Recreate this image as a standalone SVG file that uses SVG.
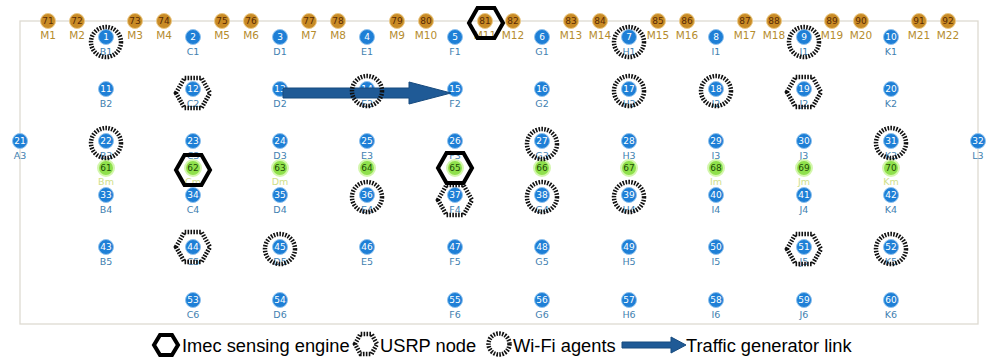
<svg xmlns="http://www.w3.org/2000/svg" xmlns:xlink="http://www.w3.org/1999/xlink" width="988" height="362" viewBox="0 0 988 362">
<style>
.frame{fill:none;stroke:#dddad2;stroke-width:1.3}
.b{fill:#1e7fd6;stroke:#8fc2ee;stroke-width:1}
.m{fill:#c98b25;stroke:#e9c886;stroke-width:1}
.g{fill:#8fe04c;stroke:#d4f6ae;stroke-width:2}
.bn,.mn,.gn{font-family:"DejaVu Sans",sans-serif;font-size:9px;text-anchor:middle}
.bn{fill:#ffffff}
.mn{fill:#5a2b05}
.gn{fill:#1d4d05}
.bl{font-family:"DejaVu Sans",sans-serif;font-size:9.5px;text-anchor:middle;fill:#3f7fb0}
.ml{font-family:"DejaVu Sans",sans-serif;font-size:10.5px;text-anchor:middle;fill:#b58c2e}
.gl{font-family:"DejaVu Sans",sans-serif;font-size:9.5px;text-anchor:middle;fill:#cfe08a}
.wifi{fill:none;stroke:#111;stroke-width:4.5;stroke-dasharray:1.6 1.3}
.usrp{fill:none;stroke:#111;stroke-width:4.5;stroke-dasharray:1.6 1.3}
.imec{fill:none;stroke:#000;stroke-width:4}
.arrow{fill:#1f5a96;stroke:#174a7e;stroke-width:1}
.lt{font-family:"Liberation Sans",Arial,sans-serif;font-size:18.3px;fill:#000}
</style>
<defs>
<polygon id="hex" points="-17,0 -8.5,-15 8.5,-15 17,0 8.5,15 -8.5,15"/>
</defs>
<rect class="frame" x="20" y="21" width="958" height="303"/>
<g id="m-nodes">
<g id="n71"><circle class="m" cx="48" cy="21" r="7.5"/><text class="mn" x="48" y="24.3">71</text><text class="ml" x="48" y="39">M1</text></g>
<g id="n72"><circle class="m" cx="77" cy="21" r="7.5"/><text class="mn" x="77" y="24.3">72</text><text class="ml" x="77" y="39">M2</text></g>
<g id="n73"><circle class="m" cx="135" cy="21" r="7.5"/><text class="mn" x="135" y="24.3">73</text><text class="ml" x="135" y="39">M3</text></g>
<g id="n74"><circle class="m" cx="164" cy="21" r="7.5"/><text class="mn" x="164" y="24.3">74</text><text class="ml" x="164" y="39">M4</text></g>
<g id="n75"><circle class="m" cx="222" cy="21" r="7.5"/><text class="mn" x="222" y="24.3">75</text><text class="ml" x="222" y="39">M5</text></g>
<g id="n76"><circle class="m" cx="251" cy="21" r="7.5"/><text class="mn" x="251" y="24.3">76</text><text class="ml" x="251" y="39">M6</text></g>
<g id="n77"><circle class="m" cx="309" cy="21" r="7.5"/><text class="mn" x="309" y="24.3">77</text><text class="ml" x="309" y="39">M7</text></g>
<g id="n78"><circle class="m" cx="338" cy="21" r="7.5"/><text class="mn" x="338" y="24.3">78</text><text class="ml" x="338" y="39">M8</text></g>
<g id="n79"><circle class="m" cx="397" cy="21" r="7.5"/><text class="mn" x="397" y="24.3">79</text><text class="ml" x="397" y="39">M9</text></g>
<g id="n80"><circle class="m" cx="426" cy="21" r="7.5"/><text class="mn" x="426" y="24.3">80</text><text class="ml" x="426" y="39">M10</text></g>
<g id="n81"><circle class="m" cx="485" cy="21" r="7.5"/><text class="mn" x="485" y="24.3">81</text><text class="ml" x="485" y="39">M11</text></g>
<g id="n82"><circle class="m" cx="513" cy="21" r="7.5"/><text class="mn" x="513" y="24.3">82</text><text class="ml" x="513" y="39">M12</text></g>
<g id="n83"><circle class="m" cx="571" cy="21" r="7.5"/><text class="mn" x="571" y="24.3">83</text><text class="ml" x="571" y="39">M13</text></g>
<g id="n84"><circle class="m" cx="600" cy="21" r="7.5"/><text class="mn" x="600" y="24.3">84</text><text class="ml" x="600" y="39">M14</text></g>
<g id="n85"><circle class="m" cx="658" cy="21" r="7.5"/><text class="mn" x="658" y="24.3">85</text><text class="ml" x="658" y="39">M15</text></g>
<g id="n86"><circle class="m" cx="687" cy="21" r="7.5"/><text class="mn" x="687" y="24.3">86</text><text class="ml" x="687" y="39">M16</text></g>
<g id="n87"><circle class="m" cx="745" cy="21" r="7.5"/><text class="mn" x="745" y="24.3">87</text><text class="ml" x="745" y="39">M17</text></g>
<g id="n88"><circle class="m" cx="774" cy="21" r="7.5"/><text class="mn" x="774" y="24.3">88</text><text class="ml" x="774" y="39">M18</text></g>
<g id="n89"><circle class="m" cx="832" cy="21" r="7.5"/><text class="mn" x="832" y="24.3">89</text><text class="ml" x="832" y="39">M19</text></g>
<g id="n90"><circle class="m" cx="861" cy="21" r="7.5"/><text class="mn" x="861" y="24.3">90</text><text class="ml" x="861" y="39">M20</text></g>
<g id="n91"><circle class="m" cx="919" cy="21" r="7.5"/><text class="mn" x="919" y="24.3">91</text><text class="ml" x="919" y="39">M21</text></g>
<g id="n92"><circle class="m" cx="948" cy="21" r="7.5"/><text class="mn" x="948" y="24.3">92</text><text class="ml" x="948" y="39">M22</text></g>
</g>
<g id="row1">
<g id="n1"><circle class="b" cx="106" cy="37" r="7.5"/><text class="bn" x="106" y="40.3">1</text><text class="bl" x="106" y="55">B1</text></g>
<g id="n2"><circle class="b" cx="193" cy="37" r="7.5"/><text class="bn" x="193" y="40.3">2</text><text class="bl" x="193" y="55">C1</text></g>
<g id="n3"><circle class="b" cx="280" cy="37" r="7.5"/><text class="bn" x="280" y="40.3">3</text><text class="bl" x="280" y="55">D1</text></g>
<g id="n4"><circle class="b" cx="367" cy="37" r="7.5"/><text class="bn" x="367" y="40.3">4</text><text class="bl" x="367" y="55">E1</text></g>
<g id="n5"><circle class="b" cx="455" cy="37" r="7.5"/><text class="bn" x="455" y="40.3">5</text><text class="bl" x="455" y="55">F1</text></g>
<g id="n6"><circle class="b" cx="542" cy="37" r="7.5"/><text class="bn" x="542" y="40.3">6</text><text class="bl" x="542" y="55">G1</text></g>
<g id="n7"><circle class="b" cx="629" cy="37" r="7.5"/><text class="bn" x="629" y="40.3">7</text><text class="bl" x="629" y="55">H1</text></g>
<g id="n8"><circle class="b" cx="716" cy="37" r="7.5"/><text class="bn" x="716" y="40.3">8</text><text class="bl" x="716" y="55">I1</text></g>
<g id="n9"><circle class="b" cx="804" cy="37" r="7.5"/><text class="bn" x="804" y="40.3">9</text><text class="bl" x="804" y="55">J1</text></g>
<g id="n10"><circle class="b" cx="891" cy="37" r="7.5"/><text class="bn" x="891" y="40.3">10</text><text class="bl" x="891" y="55">K1</text></g>
</g>
<g id="row2">
<g id="n11"><circle class="b" cx="106" cy="89" r="7.5"/><text class="bn" x="106" y="92.3">11</text><text class="bl" x="106" y="107">B2</text></g>
<g id="n12"><circle class="b" cx="193" cy="89" r="7.5"/><text class="bn" x="193" y="92.3">12</text><text class="bl" x="193" y="107">C2</text></g>
<g id="n13"><circle class="b" cx="280" cy="89" r="7.5"/><text class="bn" x="280" y="92.3">13</text><text class="bl" x="280" y="107">D2</text></g>
<g id="n14"><circle class="b" cx="367" cy="89" r="7.5"/><text class="bn" x="367" y="92.3">14</text><text class="bl" x="367" y="107">E2</text></g>
<g id="n15"><circle class="b" cx="455" cy="89" r="7.5"/><text class="bn" x="455" y="92.3">15</text><text class="bl" x="455" y="107">F2</text></g>
<g id="n16"><circle class="b" cx="542" cy="89" r="7.5"/><text class="bn" x="542" y="92.3">16</text><text class="bl" x="542" y="107">G2</text></g>
<g id="n17"><circle class="b" cx="629" cy="89" r="7.5"/><text class="bn" x="629" y="92.3">17</text><text class="bl" x="629" y="107">H2</text></g>
<g id="n18"><circle class="b" cx="716" cy="89" r="7.5"/><text class="bn" x="716" y="92.3">18</text><text class="bl" x="716" y="107">I2</text></g>
<g id="n19"><circle class="b" cx="804" cy="89" r="7.5"/><text class="bn" x="804" y="92.3">19</text><text class="bl" x="804" y="107">J2</text></g>
<g id="n20"><circle class="b" cx="891" cy="89" r="7.5"/><text class="bn" x="891" y="92.3">20</text><text class="bl" x="891" y="107">K2</text></g>
</g>
<g id="row3">
<g id="n21"><circle class="b" cx="20" cy="141" r="7.5"/><text class="bn" x="20" y="144.3">21</text><text class="bl" x="20" y="159">A3</text></g>
<g id="n22"><circle class="b" cx="106" cy="141" r="7.5"/><text class="bn" x="106" y="144.3">22</text><text class="bl" x="106" y="159">B3</text></g>
<g id="n23"><circle class="b" cx="193" cy="141" r="7.5"/><text class="bn" x="193" y="144.3">23</text><text class="bl" x="193" y="159">C3</text></g>
<g id="n24"><circle class="b" cx="280" cy="141" r="7.5"/><text class="bn" x="280" y="144.3">24</text><text class="bl" x="280" y="159">D3</text></g>
<g id="n25"><circle class="b" cx="367" cy="141" r="7.5"/><text class="bn" x="367" y="144.3">25</text><text class="bl" x="367" y="159">E3</text></g>
<g id="n26"><circle class="b" cx="455" cy="141" r="7.5"/><text class="bn" x="455" y="144.3">26</text><text class="bl" x="455" y="159">F3</text></g>
<g id="n27"><circle class="b" cx="542" cy="141" r="7.5"/><text class="bn" x="542" y="144.3">27</text><text class="bl" x="542" y="159">G3</text></g>
<g id="n28"><circle class="b" cx="629" cy="141" r="7.5"/><text class="bn" x="629" y="144.3">28</text><text class="bl" x="629" y="159">H3</text></g>
<g id="n29"><circle class="b" cx="716" cy="141" r="7.5"/><text class="bn" x="716" y="144.3">29</text><text class="bl" x="716" y="159">I3</text></g>
<g id="n30"><circle class="b" cx="804" cy="141" r="7.5"/><text class="bn" x="804" y="144.3">30</text><text class="bl" x="804" y="159">J3</text></g>
<g id="n31"><circle class="b" cx="891" cy="141" r="7.5"/><text class="bn" x="891" y="144.3">31</text><text class="bl" x="891" y="159">K3</text></g>
<g id="n32"><circle class="b" cx="978" cy="141" r="7.5"/><text class="bn" x="978" y="144.3">32</text><text class="bl" x="978" y="159">L3</text></g>
</g>
<g id="row-m">
<g id="n61"><circle class="g" cx="106" cy="168" r="8"/><text class="gn" x="106" y="171.3">61</text><text class="gl" x="106" y="185">Bm</text></g>
<g id="n62"><circle class="g" cx="193" cy="168" r="8"/><text class="gn" x="193" y="171.3">62</text><text class="gl" x="193" y="185">Cm</text></g>
<g id="n63"><circle class="g" cx="280" cy="168" r="8"/><text class="gn" x="280" y="171.3">63</text><text class="gl" x="280" y="185">Dm</text></g>
<g id="n64"><circle class="g" cx="367" cy="168" r="8"/><text class="gn" x="367" y="171.3">64</text></g>
<g id="n65"><circle class="g" cx="455" cy="168" r="8"/><text class="gn" x="455" y="171.3">65</text></g>
<g id="n66"><circle class="g" cx="542" cy="168" r="8"/><text class="gn" x="542" y="171.3">66</text></g>
<g id="n67"><circle class="g" cx="629" cy="168" r="8"/><text class="gn" x="629" y="171.3">67</text></g>
<g id="n68"><circle class="g" cx="716" cy="168" r="8"/><text class="gn" x="716" y="171.3">68</text><text class="gl" x="716" y="185">Im</text></g>
<g id="n69"><circle class="g" cx="804" cy="168" r="8"/><text class="gn" x="804" y="171.3">69</text><text class="gl" x="804" y="185">Jm</text></g>
<g id="n70"><circle class="g" cx="891" cy="168" r="8"/><text class="gn" x="891" y="171.3">70</text><text class="gl" x="891" y="185">Km</text></g>
</g>
<g id="row4">
<g id="n33"><circle class="b" cx="106" cy="195" r="7.5"/><text class="bn" x="106" y="198.3">33</text><text class="bl" x="106" y="213">B4</text></g>
<g id="n34"><circle class="b" cx="193" cy="195" r="7.5"/><text class="bn" x="193" y="198.3">34</text><text class="bl" x="193" y="213">C4</text></g>
<g id="n35"><circle class="b" cx="280" cy="195" r="7.5"/><text class="bn" x="280" y="198.3">35</text><text class="bl" x="280" y="213">D4</text></g>
<g id="n36"><circle class="b" cx="367" cy="195" r="7.5"/><text class="bn" x="367" y="198.3">36</text><text class="bl" x="367" y="213">E4</text></g>
<g id="n37"><circle class="b" cx="455" cy="195" r="7.5"/><text class="bn" x="455" y="198.3">37</text><text class="bl" x="455" y="213">F4</text></g>
<g id="n38"><circle class="b" cx="542" cy="195" r="7.5"/><text class="bn" x="542" y="198.3">38</text><text class="bl" x="542" y="213">G4</text></g>
<g id="n39"><circle class="b" cx="629" cy="195" r="7.5"/><text class="bn" x="629" y="198.3">39</text><text class="bl" x="629" y="213">H4</text></g>
<g id="n40"><circle class="b" cx="716" cy="195" r="7.5"/><text class="bn" x="716" y="198.3">40</text><text class="bl" x="716" y="213">I4</text></g>
<g id="n41"><circle class="b" cx="804" cy="195" r="7.5"/><text class="bn" x="804" y="198.3">41</text><text class="bl" x="804" y="213">J4</text></g>
<g id="n42"><circle class="b" cx="891" cy="195" r="7.5"/><text class="bn" x="891" y="198.3">42</text><text class="bl" x="891" y="213">K4</text></g>
</g>
<g id="row5">
<g id="n43"><circle class="b" cx="106" cy="247" r="7.5"/><text class="bn" x="106" y="250.3">43</text><text class="bl" x="106" y="265">B5</text></g>
<g id="n44"><circle class="b" cx="193" cy="247" r="7.5"/><text class="bn" x="193" y="250.3">44</text><text class="bl" x="193" y="265">C5</text></g>
<g id="n45"><circle class="b" cx="280" cy="247" r="7.5"/><text class="bn" x="280" y="250.3">45</text><text class="bl" x="280" y="265">D5</text></g>
<g id="n46"><circle class="b" cx="367" cy="247" r="7.5"/><text class="bn" x="367" y="250.3">46</text><text class="bl" x="367" y="265">E5</text></g>
<g id="n47"><circle class="b" cx="455" cy="247" r="7.5"/><text class="bn" x="455" y="250.3">47</text><text class="bl" x="455" y="265">F5</text></g>
<g id="n48"><circle class="b" cx="542" cy="247" r="7.5"/><text class="bn" x="542" y="250.3">48</text><text class="bl" x="542" y="265">G5</text></g>
<g id="n49"><circle class="b" cx="629" cy="247" r="7.5"/><text class="bn" x="629" y="250.3">49</text><text class="bl" x="629" y="265">H5</text></g>
<g id="n50"><circle class="b" cx="716" cy="247" r="7.5"/><text class="bn" x="716" y="250.3">50</text><text class="bl" x="716" y="265">I5</text></g>
<g id="n51"><circle class="b" cx="804" cy="247" r="7.5"/><text class="bn" x="804" y="250.3">51</text><text class="bl" x="804" y="265">J5</text></g>
<g id="n52"><circle class="b" cx="891" cy="247" r="7.5"/><text class="bn" x="891" y="250.3">52</text><text class="bl" x="891" y="265">K5</text></g>
</g>
<g id="row6">
<g id="n53"><circle class="b" cx="193" cy="300" r="7.5"/><text class="bn" x="193" y="303.3">53</text><text class="bl" x="193" y="318">C6</text></g>
<g id="n54"><circle class="b" cx="280" cy="300" r="7.5"/><text class="bn" x="280" y="303.3">54</text><text class="bl" x="280" y="318">D6</text></g>
<g id="n55"><circle class="b" cx="455" cy="300" r="7.5"/><text class="bn" x="455" y="303.3">55</text><text class="bl" x="455" y="318">F6</text></g>
<g id="n56"><circle class="b" cx="542" cy="300" r="7.5"/><text class="bn" x="542" y="303.3">56</text><text class="bl" x="542" y="318">G6</text></g>
<g id="n57"><circle class="b" cx="629" cy="300" r="7.5"/><text class="bn" x="629" y="303.3">57</text><text class="bl" x="629" y="318">H6</text></g>
<g id="n58"><circle class="b" cx="716" cy="300" r="7.5"/><text class="bn" x="716" y="303.3">58</text><text class="bl" x="716" y="318">I6</text></g>
<g id="n59"><circle class="b" cx="804" cy="300" r="7.5"/><text class="bn" x="804" y="303.3">59</text><text class="bl" x="804" y="318">J6</text></g>
<g id="n60"><circle class="b" cx="891" cy="300" r="7.5"/><text class="bn" x="891" y="303.3">60</text><text class="bl" x="891" y="318">K6</text></g>
</g>
<g id="connectors">
<polygon class="arrow" points="283,88 409,88 409,82 451,93 409,104 409,98 283,98"/>
</g>
<g id="wifi-agents">
<circle class="wifi" cx="106" cy="42" r="15"/>
<circle class="wifi" cx="629" cy="42" r="15"/>
<circle class="wifi" cx="804" cy="42" r="15"/>
<circle class="wifi" cx="367" cy="91" r="15"/>
<circle class="wifi" cx="629" cy="91" r="15"/>
<circle class="wifi" cx="716" cy="91" r="15"/>
<circle class="wifi" cx="106" cy="143" r="15"/>
<circle class="wifi" cx="542" cy="144" r="15"/>
<circle class="wifi" cx="891" cy="143" r="15"/>
<circle class="wifi" cx="367" cy="197" r="15"/>
<circle class="wifi" cx="542" cy="197" r="15"/>
<circle class="wifi" cx="629" cy="197" r="15"/>
<circle class="wifi" cx="280" cy="249" r="15"/>
<circle class="wifi" cx="891" cy="249" r="15"/>
</g>
<g id="usrp-nodes">
<use xlink:href="#hex" class="usrp" x="193" y="93"/>
<use xlink:href="#hex" class="usrp" x="804" y="92"/>
<use xlink:href="#hex" class="usrp" x="455" y="200"/>
<use xlink:href="#hex" class="usrp" x="193" y="247"/>
<use xlink:href="#hex" class="usrp" x="804" y="249"/>
</g>
<g id="imec-engines">
<use xlink:href="#hex" class="imec" x="486" y="23"/>
<use xlink:href="#hex" class="imec" x="193" y="170"/>
<use xlink:href="#hex" class="imec" x="455" y="168"/>
</g>
<g id="legend">
<polygon class="imec" points="154,345 160,335 172,335 178,345 172,355 160,355"/>
<text class="lt" x="182" y="352">Imec sensing engine</text>
<polygon class="usrp" points="355,344 360.5,334 371.5,334 377,344 371.5,354 360.5,354"/>
<text class="lt" x="380" y="352">USRP node</text>
<circle class="wifi" cx="499" cy="344" r="10.5"/>
<text class="lt" x="513" y="352">Wi-Fi agents</text>
<polygon class="arrow" points="622,342 671,342 671,337 686,345 671,353 671,348 622,348"/>
<text class="lt" x="686" y="352">Traffic generator link</text>
</g>
</svg>
